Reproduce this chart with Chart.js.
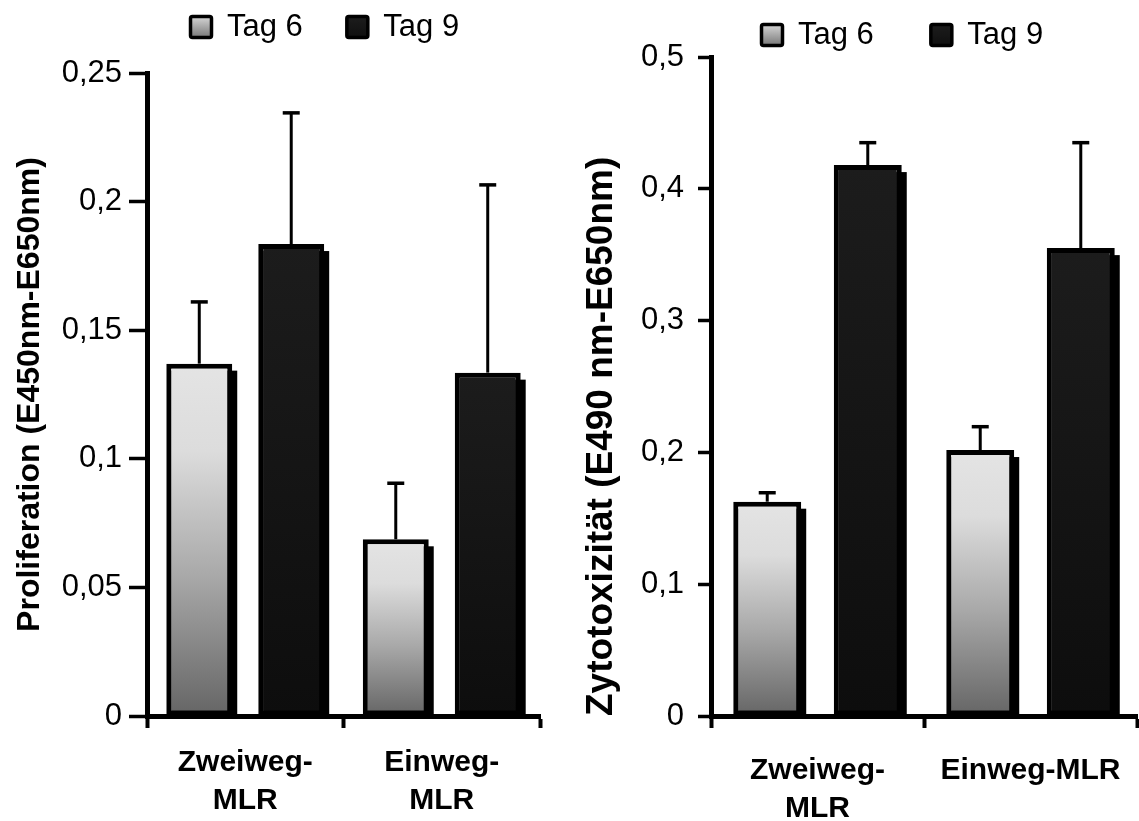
<!DOCTYPE html>
<html>
<head>
<meta charset="utf-8">
<title>Proliferation / Zytotoxizität</title>
<script src="https://cdn.jsdelivr.net/npm/chart.js@4.4.1/dist/chart.umd.min.js"></script>
<style>
    html, body { margin: 0; padding: 0; background: #fff; overflow: hidden; }
    #wrap { position: relative; width: 1139px; height: 821px; overflow: hidden; }
    .box { position: absolute; top: 0; height: 821px; }
    #leftBox { left: 0; width: 565px; }
    #rightBox { left: 565px; width: 580px; }
</style>
</head>
<body>
<div id="wrap">
    <div class="box" id="leftBox"><canvas id="prolif"></canvas></div>
    <div class="box" id="rightBox"><canvas id="zyto"></canvas></div>
</div>
<script>
// --- data ---
const seriesNames = ['Tag 6', 'Tag 9'];

// left panel: proliferation
const prolifCategories = [['Zweiweg-', 'MLR'], ['Einweg-', 'MLR']];
const prolifTag6 = [0.137, 0.0687];
const prolifTag6Err = [0.024, 0.0218];
const prolifTag9 = [0.1835, 0.1335];
const prolifTag9Err = [0.051, 0.073];
const prolifTicks = ['0', '0,05', '0,1', '0,15', '0,2', '0,25'];

// right panel: cytotoxicity
const zytoCategories = [['Zweiweg-', 'MLR'], 'Einweg-MLR'];
const zytoTag6 = [0.1626, 0.2018];
const zytoTag6Err = [0.0068, 0.0177];
const zytoTag9 = [0.418, 0.355];
const zytoTag9Err = [0.017, 0.08];
const zytoTicks = ['0', '0,1', '0,2', '0,3', '0,4', '0,5'];

const FONT = 'Arial, "Liberation Sans", sans-serif';
Chart.defaults.font.family = FONT;
Chart.defaults.color = '#000';

// light-to-dark gradient for each Tag 6 bar
function tag6Fill(context) {
    const chart = context.chart;
    const yScale = chart.scales.y;
    if (!yScale || context.raw == null) return '#b4b4b4';
    const top = yScale.getPixelForValue(context.raw);
    const base = yScale.getPixelForValue(0);
    const g = chart.ctx.createLinearGradient(0, top, 0, base);
    g.addColorStop(0, '#e4e4e4');
    g.addColorStop(0.25, '#dcdcdc');
    g.addColorStop(0.6, '#a9a9a9');
    g.addColorStop(1, '#656565');
    return g;
}

function tag9Fill(context) {
    const chart = context.chart;
    const yScale = chart.scales.y;
    if (!yScale || context.raw == null) return '#151515';
    const top = yScale.getPixelForValue(context.raw);
    const base = yScale.getPixelForValue(0);
    const g = chart.ctx.createLinearGradient(0, top, 0, base);
    g.addColorStop(0, '#1c1c1c');
    g.addColorStop(1, '#0d0d0d');
    return g;
}

// black drop shadow behind every bar
const barShadow = {
    id: 'barShadow',
    beforeDatasetsDraw(chart, args, opts) {
        const ctx = chart.ctx;
        ctx.save();
        ctx.fillStyle = '#000';
        chart.data.datasets.forEach((ds, i) => {
            chart.getDatasetMeta(i).data.forEach(bar => {
                const { x, y, base, width } = bar.getProps(['x', 'y', 'base', 'width'], true);
                ctx.fillRect(x - width / 2 + opts.dx, y + opts.dy, width, base - y - opts.dy);
            });
        });
        ctx.restore();
    }
};

// upper error bars only
const errorBars = {
    id: 'errorBars',
    afterDatasetsDraw(chart, args, opts) {
        const ctx = chart.ctx;
        const yScale = chart.scales.y;
        ctx.save();
        ctx.strokeStyle = '#000';
        chart.data.datasets.forEach((ds, i) => {
            chart.getDatasetMeta(i).data.forEach((bar, j) => {
                const top = yScale.getPixelForValue(ds.data[j] + ds.errors[j]);
                ctx.lineWidth = opts.lineWidth;
                ctx.beginPath();
                ctx.moveTo(bar.x, bar.y);
                ctx.lineTo(bar.x, top);
                ctx.stroke();
                ctx.lineWidth = opts.capWidth;
                ctx.beginPath();
                ctx.moveTo(bar.x - opts.capHalf, top);
                ctx.lineTo(bar.x + opts.capHalf, top);
                ctx.stroke();
            });
        });
        ctx.restore();
    }
};

// move the legend row to where it sits in the figure
const legendShift = {
    id: 'legendShift',
    afterLayout(chart, args, opts) {
        const lg = chart.legend;
        if (!lg || !lg.lineWidths) return;
        const pad = lg.options.labels.padding;
        const curX = (lg.left + pad + lg.right - lg.lineWidths[0]) / 2;
        const curY = lg.top + pad;
        const dx = opts.x - curX;
        const dy = opts.y - curY;
        lg.left += dx; lg.right += dx;
        lg.top += dy; lg.bottom += dy;
    }
};

function legendLabels(chart) {
    const y0 = chart.options.plugins.legendShift.y + 3;
    const ctx = chart.ctx;
    return chart.data.datasets.map((ds, i) => {
        const g = ctx.createLinearGradient(0, y0, 0, y0 + 22);
        if (i === 0) {
            g.addColorStop(0, '#dedede');
            g.addColorStop(1, '#7c7c7c');
        } else {
            g.addColorStop(0, '#1e1e1e');
            g.addColorStop(1, '#101010');
        }
        return {
            text: ds.label,
            fillStyle: g,
            strokeStyle: '#000',
            lineWidth: 3.5,
            borderRadius: 2,
            fontColor: '#000',
            hidden: false,
            datasetIndex: i
        };
    });
}

function drawPanel(canvasId, p) {
    const ctx = document.getElementById(canvasId).getContext('2d');
    return new Chart(ctx, {
        type: 'bar',
        data: {
            labels: p.categories,
            datasets: [
                {
                    label: seriesNames[0],
                    data: p.tag6,
                    errors: p.tag6Err,
                    backgroundColor: tag6Fill,
                    borderColor: '#000',
                    borderWidth: 5,
                    borderSkipped: false,
                    categoryPercentage: p.catPct,
                    barPercentage: p.barPct
                },
                {
                    label: seriesNames[1],
                    data: p.tag9,
                    errors: p.tag9Err,
                    backgroundColor: tag9Fill,
                    borderColor: '#000',
                    borderWidth: 5,
                    borderSkipped: false,
                    categoryPercentage: p.catPct,
                    barPercentage: p.barPct
                }
            ]
        },
        options: {
            responsive: true,
            maintainAspectRatio: false,
            animation: false,
            events: [],
            layout: { padding: p.padding },
            plugins: {
                tooltip: { enabled: false },
                legend: {
                    display: true,
                    position: 'top',
                    labels: {
                        boxWidth: 21,
                        boxHeight: 21,
                        padding: p.legendGap,
                        color: '#000',
                        font: { size: 31, family: FONT },
                        generateLabels: legendLabels
                    }
                },
                legendShift: p.legendPos,
                barShadow: { dx: 5, dy: 7 },
                errorBars: { lineWidth: 3, capWidth: 3.5, capHalf: 8.5 }
            },
            scales: {
                x: {
                    offset: true,
                    z: 1,
                    ticks: {
                        color: '#000',
                        font: { size: 30, weight: 'bold', family: FONT, lineHeight: 1.25 },
                        padding: p.xLabelPad,
                        maxRotation: 0,
                        minRotation: 0,
                        autoSkip: false
                    },
                    grid: {
                        display: true,
                        offset: true,
                        drawOnChartArea: false,
                        drawTicks: true,
                        tickLength: 12,
                        tickWidth: 4,
                        tickColor: '#000'
                    },
                    border: { display: true, color: '#000', width: 5 },
                    afterFit: s => { s.height = 105; }
                },
                y: {
                    min: 0,
                    max: p.yMax,
                    ticks: {
                        stepSize: p.yStep,
                        color: '#000',
                        font: { size: 31, family: FONT },
                        padding: p.yLabelPad,
                        callback: (v, i) => p.ticks[i]
                    },
                    grid: {
                        display: true,
                        drawOnChartArea: false,
                        drawTicks: true,
                        tickLength: p.yTickLen,
                        tickWidth: 3.5,
                        tickColor: '#000'
                    },
                    border: { display: true, color: '#000', width: 5 },
                    title: {
                        display: true,
                        text: p.title,
                        color: '#000',
                        align: p.titleAlign,
                        font: { size: p.titleSize, weight: 'bold', family: FONT },
                        padding: { top: p.titlePad, bottom: 0 }
                    },
                    afterFit: s => { s.width = p.axisWidth; }
                }
            }
        },
        plugins: [barShadow, errorBars, legendShift]
    });
}

drawPanel('prolif', {
    categories: prolifCategories,
    tag6: prolifTag6, tag6Err: prolifTag6Err,
    tag9: prolifTag9, tag9Err: prolifTag9Err,
    ticks: prolifTicks,
    yMax: 0.25, yStep: 0.05,
    title: 'Proliferation (E450nm-E650nm)',
    titleSize: 32, titlePad: 11, titleAlign: 'center',
    axisWidth: 147, yTickLen: 18, yLabelPad: 7,
    xLabelPad: 16,
    catPct: 0.936, barPct: 0.717,
    padding: { top: -12, right: 25, bottom: 0, left: 0 },
    legendGap: 44,
    legendPos: { x: 190.5, y: 11.5 }
});

drawPanel('zyto', {
    categories: zytoCategories,
    tag6: zytoTag6, tag6Err: zytoTag6Err,
    tag9: zytoTag9, tag9Err: zytoTag9Err,
    ticks: zytoTicks,
    yMax: 0.5, yStep: 0.1,
    title: 'Zytotoxizität (E490 nm-E650nm)',
    titleSize: 37, titlePad: 15, titleAlign: 'start',
    axisWidth: 146, yTickLen: 13, yLabelPad: 14,
    xLabelPad: 24,
    catPct: 0.944, barPct: 0.676,
    padding: { top: -41, right: 2, bottom: 0, left: 0 },
    legendGap: 57,
    legendPos: { x: 196.5, y: 19.5 }
});
</script>
</body>
</html>
